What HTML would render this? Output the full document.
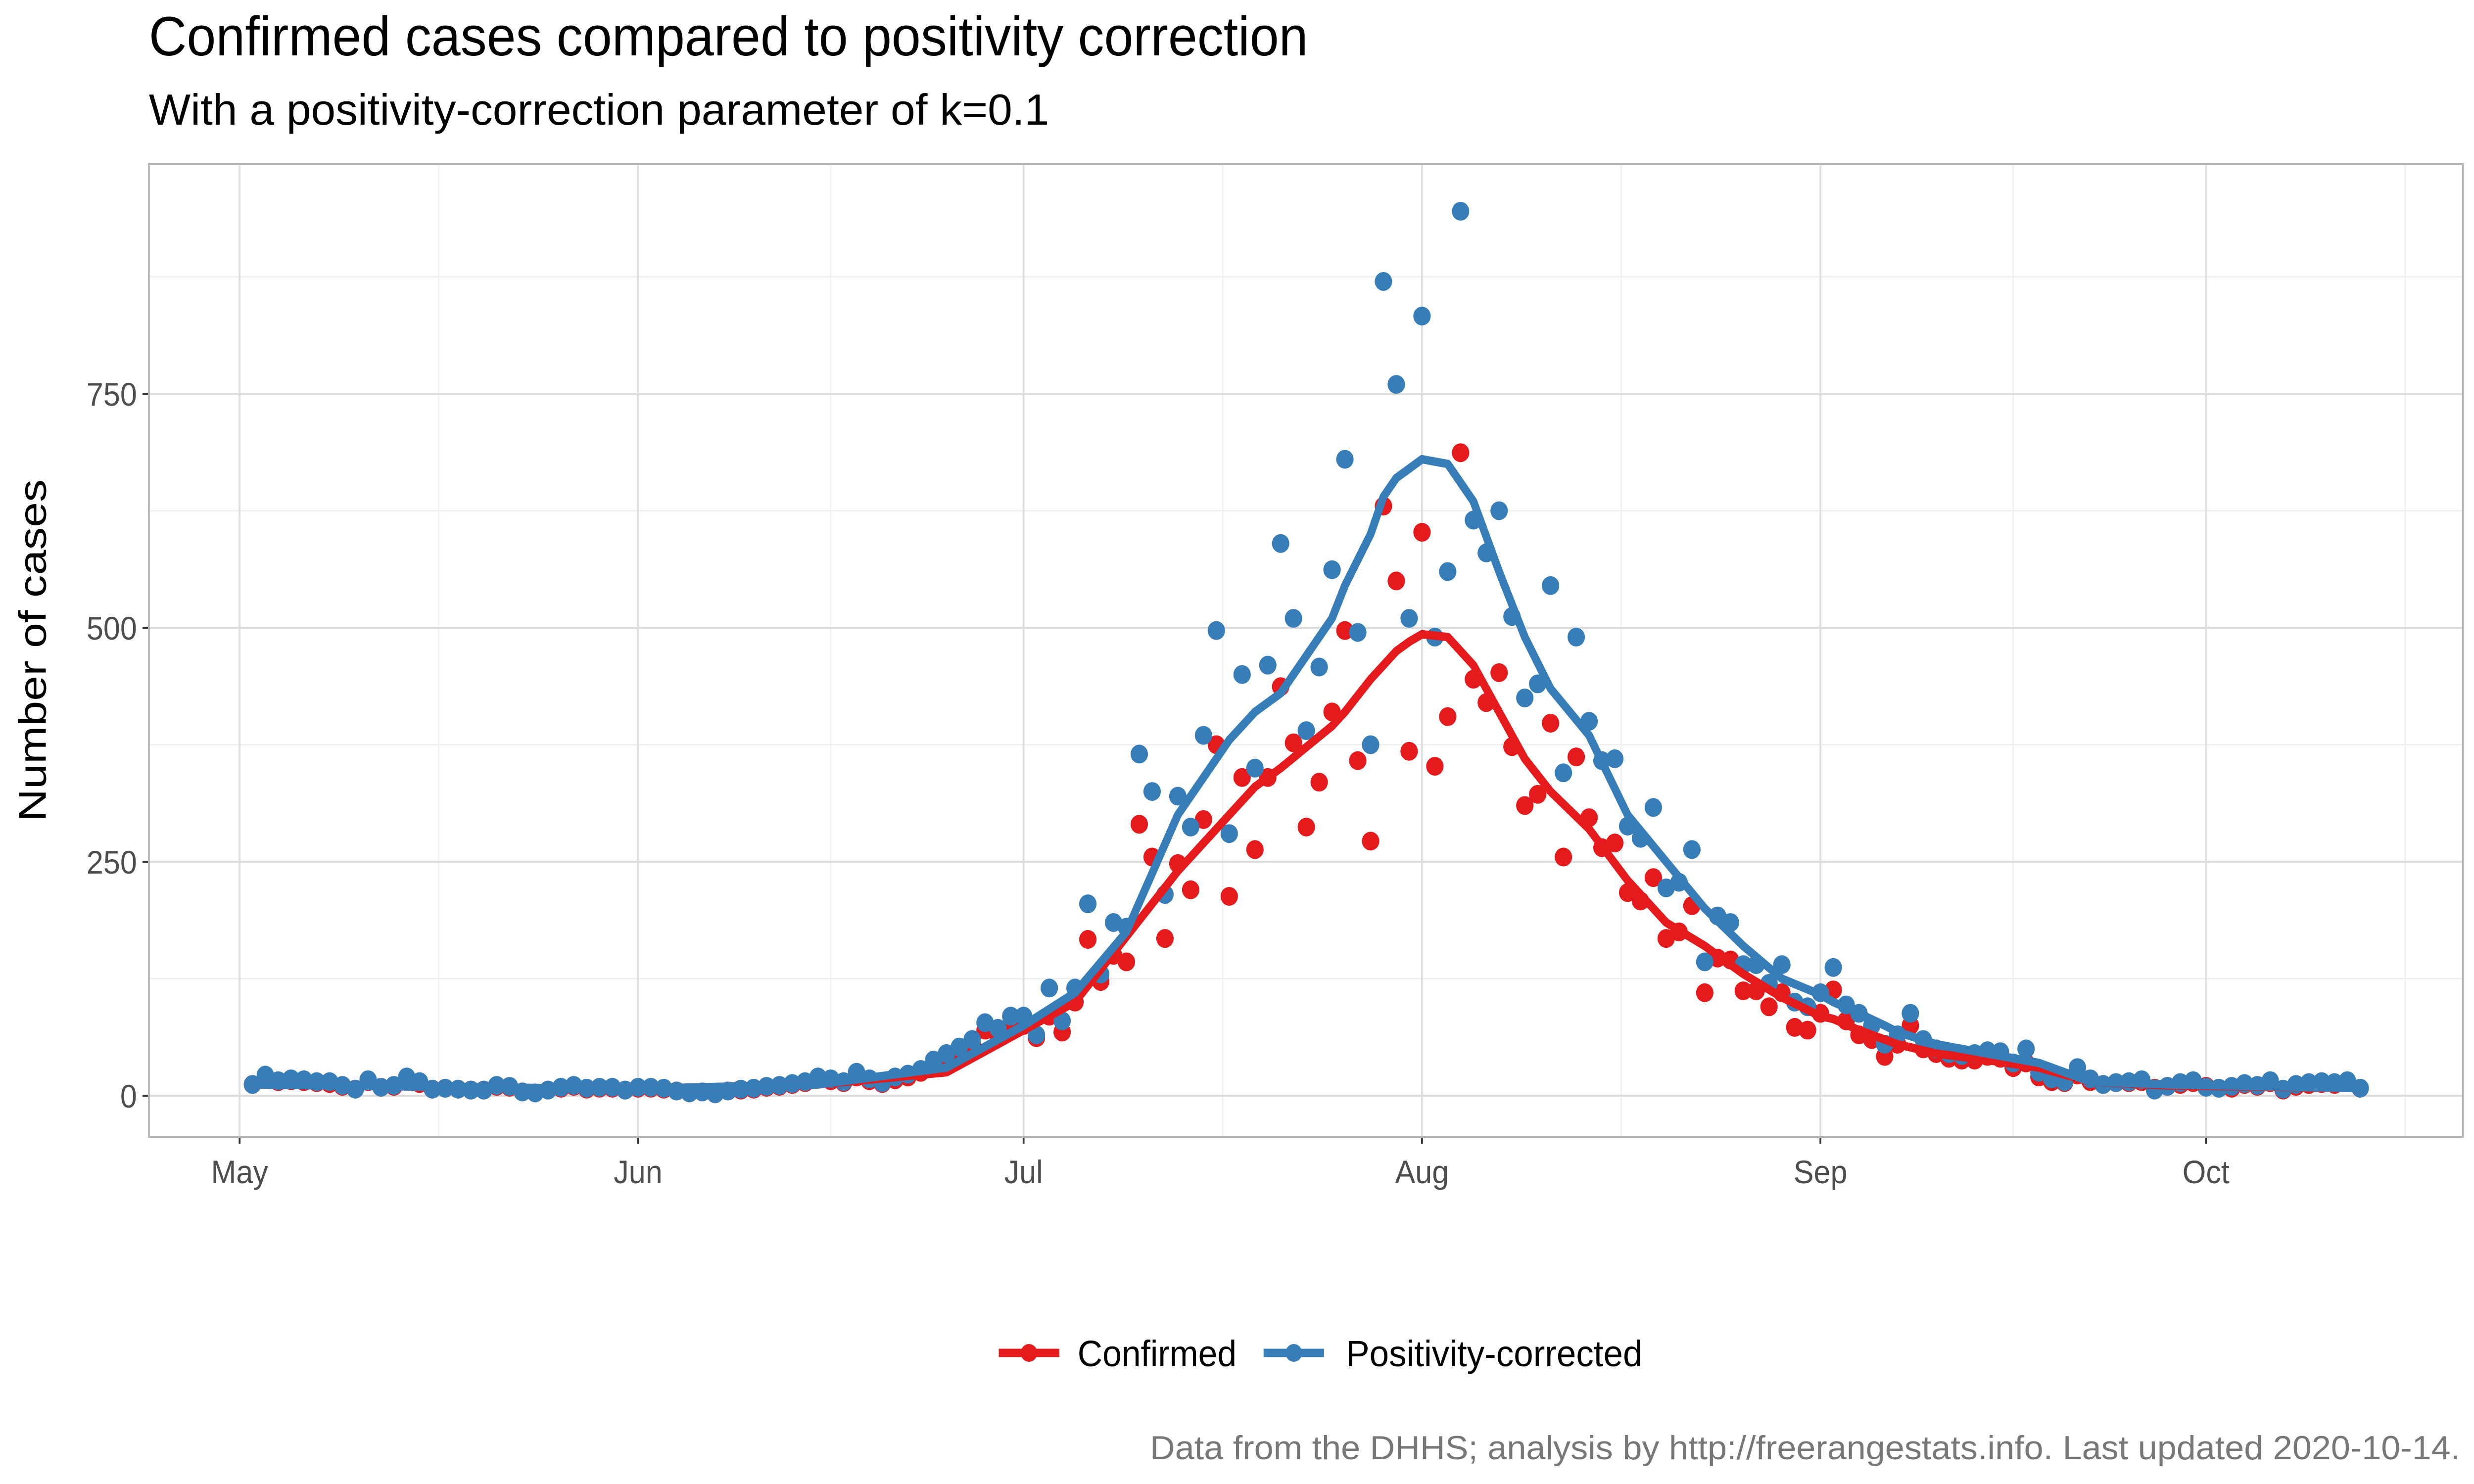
<!DOCTYPE html>
<html><head><meta charset="utf-8"><style>
html,body{margin:0;padding:0;background:#fff;width:100%;height:100%;overflow:hidden}
svg{display:block;position:absolute;left:0;top:0;width:100vw;height:100vh;font-family:"Liberation Sans",sans-serif}
</style></head><body>
<svg id="chart" viewBox="0 0 5400 3000" preserveAspectRatio="none" xmlns="http://www.w3.org/2000/svg">
<rect width="5400" height="3000" fill="#fff"/>
<text x="325" y="112" font-size="112" fill="#000" textLength="2530" lengthAdjust="spacingAndGlyphs">Confirmed cases compared to positivity correction</text>
<text x="325" y="252" font-size="88" fill="#000" textLength="1965" lengthAdjust="spacingAndGlyphs">With a positivity-correction parameter of k=0.1</text>
<g id="grid"></g>
<g id="axes"></g>
<g id="series"></g>
<rect x="325" y="332" width="5051" height="1966" fill="none" stroke="#b3b3b3" stroke-width="4"/>
<text transform="translate(100,1315) rotate(-90)" text-anchor="middle" font-size="84" fill="#000" textLength="692" lengthAdjust="spacingAndGlyphs">Number of cases</text>
<g>
<g>
<line x1="2180" y1="2735" x2="2312" y2="2735" stroke="#e41a1c" stroke-width="17"/>
<circle cx="2246" cy="2735" r="18" fill="#e41a1c"/>
<text x="2352" y="2762" font-size="74" fill="#000" textLength="347" lengthAdjust="spacingAndGlyphs">Confirmed</text>
</g>
<g>
<line x1="2758" y1="2735" x2="2890" y2="2735" stroke="#377eb8" stroke-width="17"/>
<circle cx="2824" cy="2735" r="18" fill="#377eb8"/>
<text x="2938" y="2762" font-size="74" fill="#000" textLength="647" lengthAdjust="spacingAndGlyphs">Positivity-corrected</text>
</g>
</g>
<text x="2510" y="2950" font-size="68" fill="#777" textLength="2860" lengthAdjust="spacingAndGlyphs">Data from the DHHS; analysis by http://freerangestats.info. Last updated 2020-10-14.</text>
</svg>
<script>
const confirmed = [12,18,15,16,15,14,13,10,7,15,9,10,17,13,7,8,7,6,6,10,9,4,3,6,8,10,7,8,8,6,
8,8,7,5,3,4,2,5,6,7,9,10,12,14,18,16,14,20,16,13,17,20,25,35,40,45,55,70,65,72,
75,62,85,68,100,167,122,150,143,290,255,168,248,220,295,375,213,340,263,340,437,377,287,335,410,497,358,272,630,550,368,602,352,405,687,445,420,452,373,310,322,398,255,362,297,265,270,217,208,233,168,175,203,110,147,145,112,112,95,110,73,70,88,113,80,65,60,42,55,75,50,45,40,38,38,42,40,30,35,20,15,14,22,15,12,14,14,15,8,10,12,14,10,8,8,12,10,14,6,10,12,13,12,14,8];
const corrected = [12,22,16,18,17,15,15,11,7,17,9,11,20,15,7,8,7,6,6,11,10,4,3,6,9,11,8,9,9,6,
9,9,8,5,3,4,2,5,7,8,10,11,13,15,20,18,15,25,18,14,20,23,28,38,45,52,60,78,72,85,
85,65,115,80,115,205,130,185,180,365,325,215,320,287,385,497,280,450,350,460,590,510,390,458,562,680,495,375,870,760,510,833,490,560,945,615,580,625,512,425,440,545,345,490,400,358,360,288,275,308,222,228,263,143,192,185,140,140,120,140,100,95,110,137,97,88,75,55,65,88,60,50,45,43,45,48,47,35,50,25,18,15,30,18,12,14,15,17,6,10,14,16,9,8,10,13,11,16,7,12,14,15,14,16,8];
const trendDays = [1,30,45,55,61,65,69,73,77,79,81,85,86,88,89,90,91,92,94,96,98,100,102,105,108,111,114,117,120,123,124,126,128,129,132,136,140,144,150,165];
const confirmedTrend = [12,7,12,25,70,100,170,240,300,330,350,395,410,445,460,475,485,493,490,460,410,360,325,285,230,185,160,130,105,85,82,70,60,55,45,38,30,15,11,8];
const correctedTrend = [12,7,12,30,75,110,175,300,380,410,430,510,545,600,640,660,670,680,675,635,560,490,435,385,300,250,200,160,125,108,100,88,75,68,55,45,35,15,12,8];
const yTicks = [0,250,500,750];
const yMinor = [125,375,625,875];
const monthDays = [0,31,61,92,123,153];
const monthLabels = ["May","Jun","Jul","Aug","Sep","Oct"];

const NS = "http://www.w3.org/2000/svg";
const X0 = 523, PX_DAY = (4815 - 523) / 153;
const Y0 = 2215, PX_VAL = (2215 - 796) / 750;
const L = 325, R = 5376, T = 332, B = 2298;
function xs(d){ return X0 + d * PX_DAY; }
function ys(v){ return Y0 - v * PX_VAL; }
function mk(tag, attrs, parent){
  const e = document.createElementNS(NS, tag);
  for (const k in attrs) e.setAttribute(k, attrs[k]);
  parent.appendChild(e);
  return e;
}
const grid = document.getElementById('grid');
const axes = document.getElementById('axes');
const series = document.getElementById('series');

yMinor.forEach(v => {
  const el = mk('line', {x1:L, x2:R, y1:ys(v), y2:ys(v), stroke:'#f0f0f0', 'stroke-width':3}, grid);
  
  
});
const minorDays = [];
for (let i = 0; i < monthDays.length - 1; i++) minorDays.push((monthDays[i] + monthDays[i+1]) / 2);
minorDays.push(153 + 15.5);
minorDays.forEach(d => {
  const el = mk('line', {x1:xs(d), x2:xs(d), y1:T, y2:B, stroke:'#f0f0f0', 'stroke-width':3}, grid);
  
  
});
yTicks.forEach(v => {
  const el = mk('line', {x1:L, x2:R, y1:ys(v), y2:ys(v), stroke:'#dedede', 'stroke-width':4}, grid);
  
  
  const tk = mk('line', {x1:L-14, x2:L, y1:ys(v), y2:ys(v), stroke:'#333', 'stroke-width':4}, axes);
  
  
  const t = mk('text', {x:L-26, y:ys(v)+24, 'text-anchor':'end', 'font-size':66, fill:'#4d4d4d'}, axes);
  t.textContent = v;
  
  
});
monthDays.forEach((d, i) => {
  const el = mk('line', {x1:xs(d), x2:xs(d), y1:T, y2:B, stroke:'#dedede', 'stroke-width':4}, grid);
  
  
  const tk = mk('line', {x1:xs(d), x2:xs(d), y1:B, y2:B+14, stroke:'#333', 'stroke-width':4}, axes);
  
  
  const t = mk('text', {x:xs(d), y:B+94, 'text-anchor':'middle', 'font-size':66, fill:'#4d4d4d'}, axes);
  t.textContent = monthLabels[i];
  
  
});

function drawPoints(arr, color, name){
  arr.forEach((v, i) => {
    const c = mk('circle', {cx:xs(i+1), cy:ys(v), r:19, fill:color}, series);
    
    
  });
}
function drawLine(vals, color, name){
  const pts = trendDays.map((d, i) => xs(d).toFixed(1) + ',' + ys(vals[i]).toFixed(1)).join(' ');
  const p = mk('polyline', {points:pts, fill:'none', stroke:color, 'stroke-width':17, 'stroke-linejoin':'round'}, series);
  
  
}
drawPoints(confirmed, '#e41a1c', 'confirmed-point');
drawPoints(corrected, '#377eb8', 'corrected-point');
drawLine(confirmedTrend, '#e41a1c', 'confirmed-trend-line');
drawLine(correctedTrend, '#377eb8', 'corrected-trend-line');
</script>
</body></html>
